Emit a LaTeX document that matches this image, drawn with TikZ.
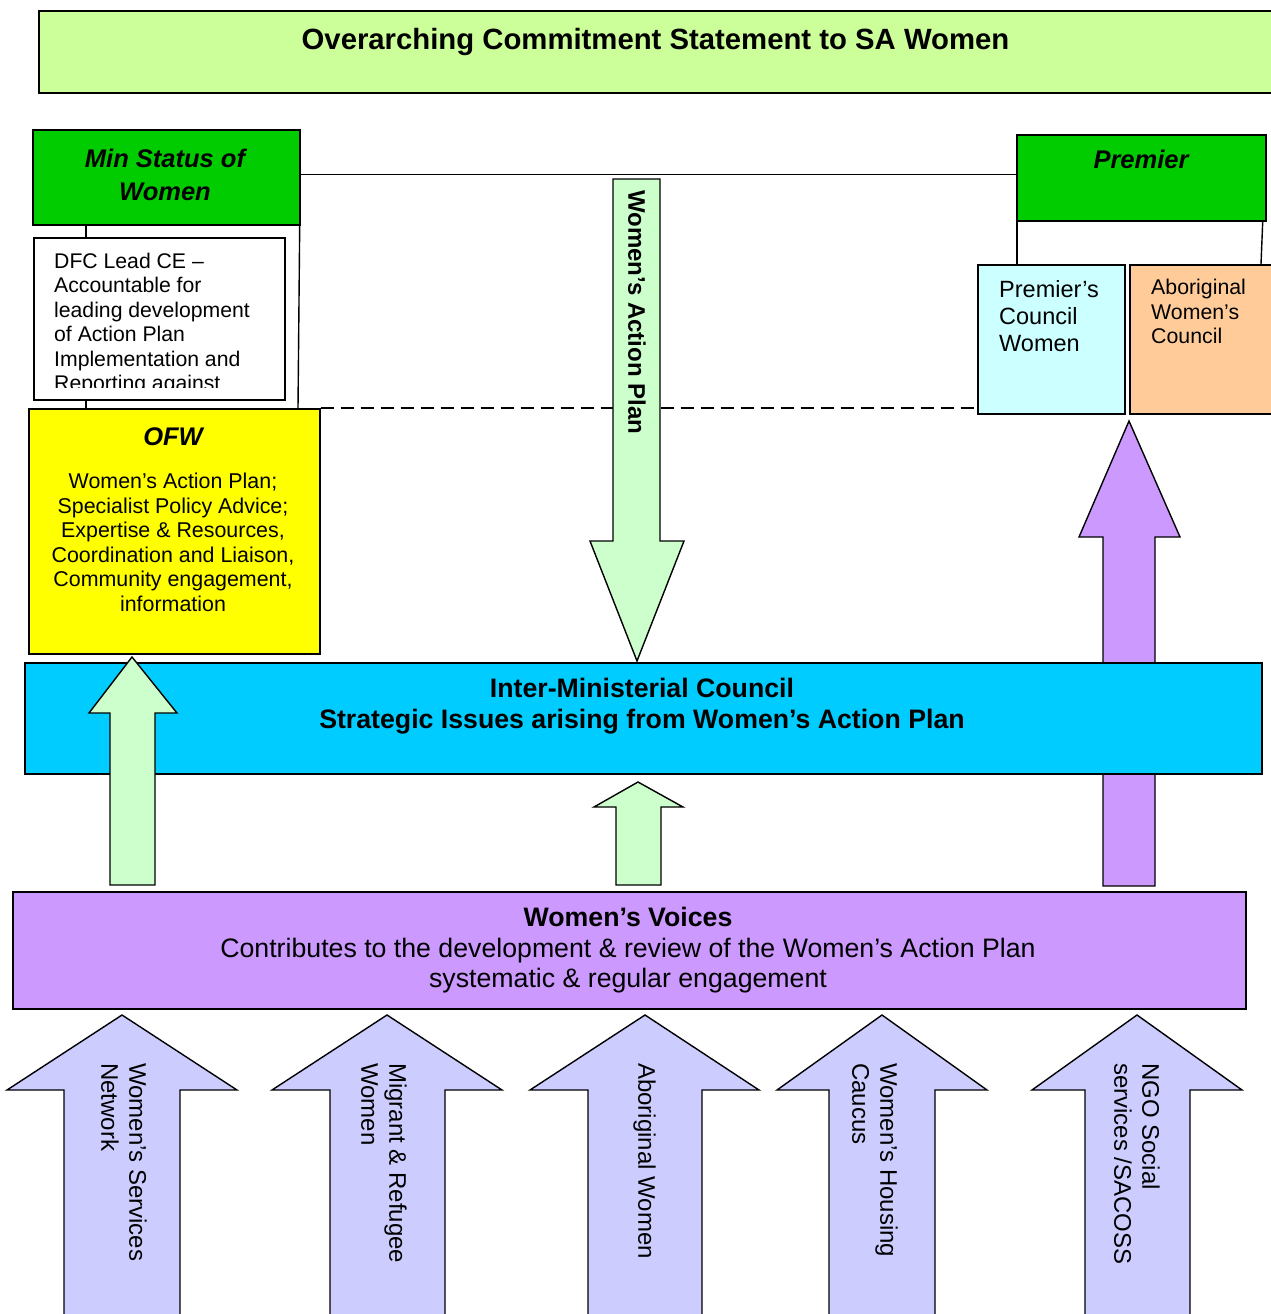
\documentclass[tikz,border=0pt]{standalone}
\usepackage{fontspec}
\setmainfont{Liberation Sans}
\usetikzlibrary{calc}
\definecolor{cTitle}{HTML}{CCFF99}
\definecolor{cGreen}{HTML}{00CC00}
\definecolor{cYellow}{HTML}{FFFF00}
\definecolor{cCyan}{HTML}{CCFFFF}
\definecolor{cOrange}{HTML}{FFCC99}
\definecolor{cLgreen}{HTML}{CCFFCC}
\definecolor{cBlue}{HTML}{00CCFF}
\definecolor{cPurple}{HTML}{CC99FF}
\definecolor{cLav}{HTML}{CCCCFF}
\newcommand\setfs[2]{\fontsize{#1}{#2}\selectfont}
\begin{document}
\begin{tikzpicture}[x=1pt,y=-1pt,
  box/.style={draw, line width=1.5pt, inner sep=0pt, anchor=north west},
  lbl/.style={inner sep=0pt, text=black},
  conn/.style={draw, line width=1.4pt},
  arr/.style={draw, line width=1.4pt, line join=miter}]
\useasboundingbox (0,0) rectangle (1271,1314);
\clip (0,0) rectangle (1271,1314);

% title
\node[box, line width=1.8pt, fill=cTitle, minimum width=1260pt, minimum height=82pt] (title) at (38,10) {};
\node[lbl, anchor=base, font=\setfs{29.3}{33}\bfseries] (titletxt) at (655.5,50) {Overarching Commitment Statement to SA Women};

% ministers
\node[box, line width=1.7pt, fill=cGreen, minimum width=267pt, minimum height=95pt] (minbox) at (32,129) {};
\node[lbl, anchor=north, align=center, font=\setfs{25.5}{33}\bfseries\itshape] (mintxt) at (165,149) {Min Status of\\Women};
\node[box, line width=1.7pt, fill=cGreen, minimum width=249pt, minimum height=86pt] (premier) at (1016,134) {};
\node[lbl, anchor=base, font=\setfs{25.5}{30}\bfseries\itshape] (premtxt) at (1141,168) {Premier};
\draw[conn] ($(minbox.north east)!0.47!(minbox.south east)$) coordinate (mline) -- (mline -| premier.west);

% DFC
\node[box, fill=white, minimum width=251pt, minimum height=162pt] (dfc) at (33,237) {};
\begin{scope}
\clip (34,238) rectangle (283,387);
\node[lbl, anchor=north west, align=left, font=\setfs{21.2}{24.4}] (dfctxt) at (54,253) {DFC Lead CE –\\Accountable for\\leading development\\of Action Plan\\Implementation and\\Reporting against};
\end{scope}

% OFW
\node[box, fill=cYellow, minimum width=291pt, minimum height=245pt] (ofw) at (28,408) {};
\node[lbl, anchor=base, font=\setfs{25.5}{30}\bfseries\itshape] (ofwtitle) at (173,445) {OFW};
\node[lbl, anchor=north, align=center, font=\setfs{21.4}{24.5}] (ofwtxt) at (173,473) {Women’s Action Plan;\\Specialist Policy Advice;\\Expertise \& Resources,\\Coordination and Liaison,\\Community engagement,\\information};

\draw[conn] ($(minbox.south west)+(54,0)$) -- ($(dfc.north west)+(53,0)$);
\draw[conn] ($(dfc.south west)+(53,0)$) -- ($(ofw.north west)+(58,0)$);
\draw[conn] ($(minbox.south east)+(-1,0)$) -- ($(ofw.north west)+(270,0)$);

% councils
\node[box, fill=cCyan, minimum width=147pt, minimum height=149pt] (pcw) at (977,264) {};
\node[box, fill=cOrange, minimum width=170pt, minimum height=149pt] (awc) at (1129,264) {};
\node[lbl, anchor=north west, align=left, font=\setfs{23.5}{27}] (pcwtxt) at (999,280) {Premier’s\\Council\\Women};
\node[lbl, anchor=north west, align=left, font=\setfs{21.3}{24.5}] (awctxt) at (1151,279) {Aboriginal\\Women’s\\Council};
\draw[conn] ($(premier.south west)+(1,0)$) -- ($(pcw.north west)+(40,0)$);
\draw[conn] ($(premier.south east)+(-4,0)$) -- ($(awc.north west)+(132,0)$);

\draw[conn, dash pattern=on 13pt off 7pt] (ofw.north east) -- (ofw.north east -| pcw.west);

% Women's Action Plan arrow
\draw[arr, fill=cLgreen] (613,179) -- (613,541) -- (590,541) -- (637,661) -- (684,541) -- (660,541) -- (660,179) -- cycle;
\node[lbl, rotate=-90, anchor=north west, font=\setfs{24}{28}\bfseries] (waptxt) at (646,190) {Women’s Action Plan};

% purple arrow up to councils
\draw[arr, fill=cPurple] (1103,886) -- (1103,537) -- (1079,537) -- (1129,421) -- (1180,537) -- (1155,537) -- (1155,886) -- cycle;

% Inter-Ministerial Council
\node[box, fill=cBlue, minimum width=1237pt, minimum height=111pt] (imc) at (24,662) {};
\node[lbl, anchor=north, align=center, font=\setfs{26.7}{30.5}\bfseries] (imctxt) at (642,678) {Inter-Ministerial Council\\Strategic Issues arising from Women’s Action Plan};

% green up arrows
\draw[arr, fill=cLgreen] (110,885) -- (110,713) -- (89,713) -- (132,657) -- (177,713) -- (155,713) -- (155,885) -- cycle;
\draw[arr, fill=cLgreen] (616,885) -- (616,807) -- (594,807) -- (638,782) -- (683,807) -- (661,807) -- (661,885) -- cycle;

% Women's Voices
\node[box, fill=cPurple, minimum width=1233pt, minimum height=117pt] (wv) at (12,891) {};
\node[lbl, anchor=north, align=center, font=\setfs{26.7}{30.5}] (wvtxt) at (628,907) {\textbf{Women’s Voices}\\Contributes to the development \& review of the Women’s Action Plan\\systematic \& regular engagement};

% bottom arrows
\draw[arr, fill=cLav] (64,1330) -- (64,1090) -- (7,1090) -- (122,1015) -- (237,1090) -- (180,1090) -- (180,1330) -- cycle;
\draw[arr, fill=cLav] (330,1330) -- (330,1090) -- (272,1090) -- (387,1015) -- (502,1090) -- (445,1090) -- (445,1330) -- cycle;
\draw[arr, fill=cLav] (588,1330) -- (588,1090) -- (530,1090) -- (645,1015) -- (759,1090) -- (702,1090) -- (702,1330) -- cycle;
\draw[arr, fill=cLav] (829,1330) -- (829,1090) -- (777,1090) -- (882,1015) -- (987,1090) -- (935,1090) -- (935,1330) -- cycle;
\draw[arr, fill=cLav] (1085,1330) -- (1085,1090) -- (1032,1090) -- (1137,1015) -- (1242,1090) -- (1190,1090) -- (1190,1330) -- cycle;

\node[lbl, rotate=-90, anchor=north west, align=left, font=\setfs{24}{28}] (src1) at (147,1063) {Women’s Services\\Network};
\node[lbl, rotate=-90, anchor=north west, align=left, font=\setfs{24}{28}] (src2) at (407,1063) {Migrant \& Refugee\\Women};
\node[lbl, rotate=-90, anchor=north west, align=left, font=\setfs{24}{28}] (src3) at (656,1063) {Aboriginal Women};
\node[lbl, rotate=-90, anchor=north west, align=left, font=\setfs{24}{28}] (src4) at (898,1063) {Women’s Housing\\Caucus};
\node[lbl, rotate=-90, anchor=north west, align=left, font=\setfs{24}{28}] (src5) at (1160,1063) {NGO Social\\services /SACOSS};
\end{tikzpicture}
\end{document}
